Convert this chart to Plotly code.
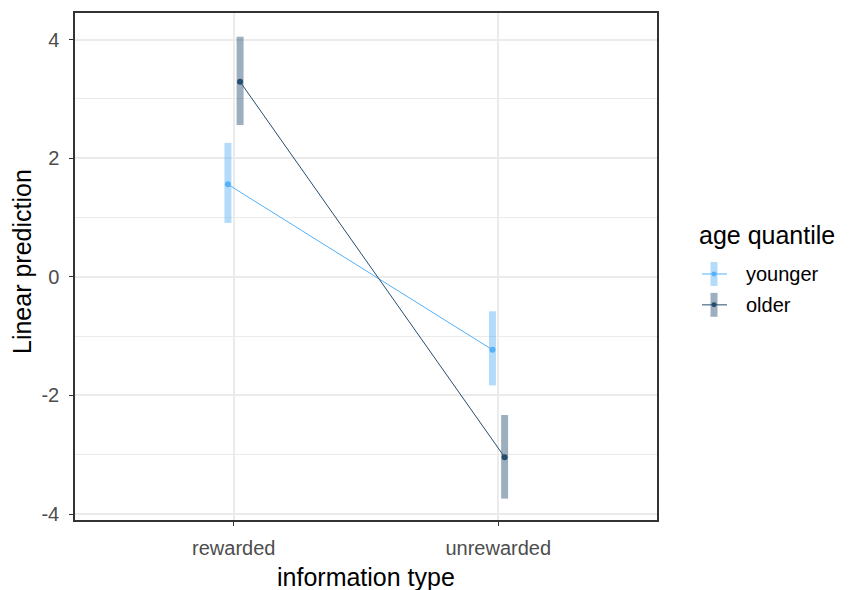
import plotly.graph_objects as go

# Estimated linear predictions with confidence bounds
info_types = ["rewarded", "unrewarded"]
groups = ["younger", "older"]
estimate = {"younger": [1.56, -1.23], "older": [3.29, -3.04]}
lower = {"younger": [0.91, -1.83], "older": [2.56, -3.74]}
upper = {"younger": [2.26, -0.58], "older": [4.05, -2.33]}

colors = {"younger": "#56B1F7", "older": "#264D6E"}
bar_colors = {"younger": "rgba(86,177,247,0.45)", "older": "rgba(38,77,110,0.45)"}
dodge = {"younger": -0.022, "older": 0.024}

FONT = "Liberation Sans, Arial, sans-serif"

fig = go.Figure()
for g in groups:
    xs = [i + 1 + dodge[g] for i in range(len(info_types))]
    fig.add_trace(go.Scatter(
        x=xs, y=estimate[g], mode="lines+markers", name=g,
        line=dict(color=colors[g], width=1),
        marker=dict(color=colors[g], size=6),
        error_y=dict(type="data", symmetric=False,
                     array=[u - e for u, e in zip(upper[g], estimate[g])],
                     arrayminus=[e - l for e, l in zip(estimate[g], lower[g])],
                     color=bar_colors[g], thickness=7, width=0),
        showlegend=False,
    ))

axis_common = dict(
    showline=True, linecolor="#333333", linewidth=1.5, mirror=True,
    ticks="outside", ticklen=4, tickcolor="#333333", tickwidth=1.3,
    gridcolor="#EBEBEB", gridwidth=1.6, zeroline=False,
    tickfont=dict(family=FONT, size=20, color="#4D4D4D"),
)

fig.update_layout(
    width=849, height=590,
    margin=dict(l=75, r=192, t=11, b=70),
    paper_bgcolor="white", plot_bgcolor="white",
    xaxis=dict(range=[0.4, 2.6], tickvals=[1, 2], ticktext=info_types,
               ticklabelstandoff=5, **axis_common),
    yaxis=dict(range=[-4.1, 4.45], tickvals=[-4, -2, 0, 2, 4],
               ticktext=["-4", "-2", "0", "2", "4"], ticklabelstandoff=6,
               minor=dict(tickvals=[-3, -1, 1, 3], showgrid=True, gridcolor="#EBEBEB", gridwidth=1.0),
               **axis_common),
    showlegend=False,
)

# Pixel helpers relative to the plotting panel
pl, pr, pt, pb = 75, 849 - 192, 11, 590 - 70
def px(x):
    return (x - pl) / (pr - pl)
def py(y):
    return (pb - y) / (pb - pt)

# Axis titles
fig.add_annotation(x=px(366), y=py(577), xref="paper", yref="paper",
                   text="information type", showarrow=False,
                   xanchor="center", yanchor="middle",
                   font=dict(family=FONT, size=25, color="black"))
fig.add_annotation(x=px(22), y=py(261), xref="paper", yref="paper",
                   text="Linear prediction", showarrow=False, textangle=-90,
                   xanchor="center", yanchor="middle",
                   font=dict(family=FONT, size=25, color="black"))

# Legend
fig.add_annotation(x=px(697), y=py(234), xref="paper", yref="paper",
                   text="age quantile", showarrow=False, xanchor="left", yanchor="middle",
                   font=dict(family=FONT, size=25, color="black"))
for k, g in enumerate(groups):
    yc = 273 + 31 * k
    fig.add_shape(type="line", xref="paper", yref="paper",
                  x0=px(714), x1=px(714), y0=py(yc - 12), y1=py(yc + 12),
                  line=dict(color=bar_colors[g], width=7))
    fig.add_shape(type="line", xref="paper", yref="paper",
                  x0=px(702), x1=px(727), y0=py(yc), y1=py(yc),
                  line=dict(color=colors[g], width=1))
    fig.add_shape(type="circle", xref="paper", yref="paper",
                  x0=px(711.5), x1=px(716.5), y0=py(yc - 2.5), y1=py(yc + 2.5),
                  fillcolor=colors[g], line=dict(width=0))
    fig.add_annotation(x=px(744), y=py(yc), xref="paper", yref="paper",
                       text=g, showarrow=False, xanchor="left", yanchor="middle",
                       font=dict(family=FONT, size=20, color="black"))

fig.write_html("out.html")
